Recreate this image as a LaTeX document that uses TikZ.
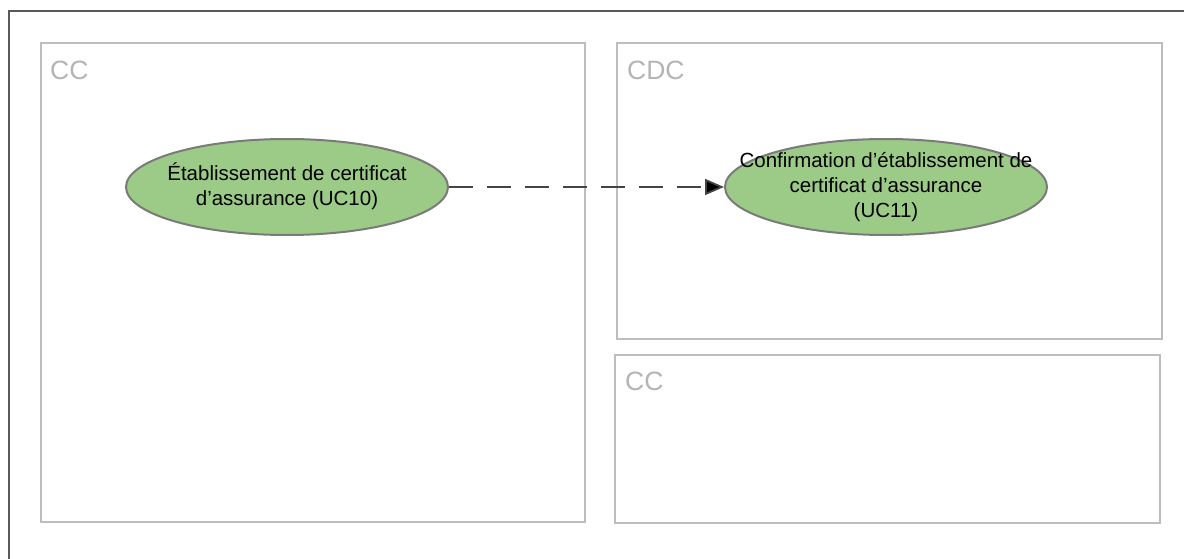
\documentclass[tikz,border=0pt]{standalone}
\usepackage{fontspec}
\setmainfont{Liberation Sans}
\usetikzlibrary{shapes.geometric,arrows.meta}
\definecolor{boxgray}{HTML}{BDBDBD}
\definecolor{labgray}{HTML}{B4B4B4}
\definecolor{framegray}{HTML}{5A5A5A}
\definecolor{ucgreen}{HTML}{9CCB88}
\definecolor{ucborder}{HTML}{7A7A7A}
\definecolor{arrowgray}{HTML}{444444}
\tikzset{
  partbox/.style={draw=boxgray, line width=2pt},
  partlabel/.style={anchor=base west, inner sep=0pt, text=labgray, font=\fontsize{26.5}{30}\selectfont},
  usecase/.style={ellipse, draw=ucborder, line width=2pt, fill=ucgreen, minimum width=322pt, minimum height=96pt, inner sep=0pt},
  uctext/.style={align=center, inner sep=0pt, font=\fontsize{20.5}{25}\selectfont},
  dep/.style={draw=arrowgray, line width=1.8pt, dash pattern=on 24pt off 14pt, -{Triangle[length=19pt,width=16pt,fill=black]}}
}
\begin{document}
\begin{tikzpicture}[x=1pt,y=-1pt]
\useasboundingbox (0,0) rectangle (1184,559);
\draw[framegray, line width=2pt] (9,559) -- (9,11) -- (1184,11);
% partitions
\draw[partbox] (41,43) rectangle (585,522);
\draw[partbox] (617,43) rectangle (1162,339);
\draw[partbox] (615,355) rectangle (1160,523);
\node[partlabel] (l1) at (50,80) {CC};
\node[partlabel] (l2) at (627,80) {CDC};
\node[partlabel] (l3) at (625,390) {CC};
% use cases
\node[usecase] (uc10) at (287,187) {};
\node[usecase] (uc11) at (886,187) {};
\node[uctext] (t10) at (287,186) {Établissement de certificat\\d’assurance (UC10)};
\node[uctext] (t11) at (886,187) {Confirmation d’établissement de\\certificat d’assurance\\(UC11)};
\draw[dep] (uc10.east) -- (uc11.west);
\end{tikzpicture}
\end{document}
